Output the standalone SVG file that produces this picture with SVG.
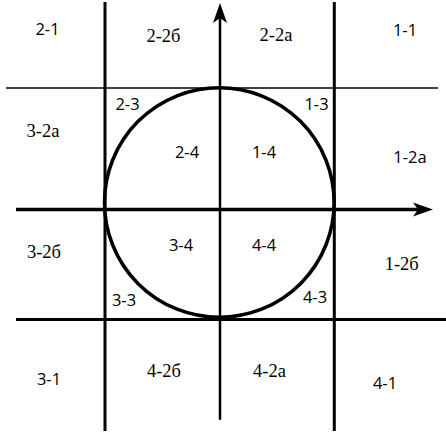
<svg xmlns="http://www.w3.org/2000/svg" width="446" height="438" viewBox="0 0 446 438">
  <style>
    .s { font-family: "Open Sans", "Liberation Sans", Arial, sans-serif; font-size: 16.5px; fill: #000; text-anchor: middle; }
    .r { font-family: "Liberation Serif", "Times New Roman", serif; font-size: 18.5px; fill: #000; text-anchor: middle; }
    .ln { stroke: #000; fill: none; }
  </style>
  <defs>
    <marker id="arr" markerUnits="userSpaceOnUse" markerWidth="20" markerHeight="14" refX="5" refY="7" orient="auto" overflow="visible">
      <path d="M0,0 L20,7 L0,14 L5,7 Z" fill="#000"/>
    </marker>
  </defs>
  <g id="connectors">
    <line class="ln" x1="6" y1="88" x2="438" y2="88" stroke-width="1.5"/>
    <line class="ln" x1="16" y1="319.5" x2="446" y2="319.5" stroke-width="3"/>
    <line class="ln" x1="105" y1="2" x2="105" y2="431" stroke-width="3"/>
    <line class="ln" x1="334.3" y1="2" x2="334.3" y2="431" stroke-width="3"/>
    <line class="ln" x1="16" y1="209.5" x2="418" y2="209.5" stroke-width="3.5" marker-end="url(#arr)"/>
    <line class="ln" x1="220" y1="419.7" x2="220" y2="18" stroke-width="2.5" marker-end="url(#arr)"/>
  </g>
  <g id="circle">
    <circle cx="219.3" cy="202.5" r="114.8" class="ln" stroke-width="3.5"/>
  </g>
  <g id="labels">
    <g id="n2-1"><text class="s" x="47.5" y="35">2-1</text></g>
    <g id="n2-2b"><text class="r" x="163.5" y="41.5">2-2б</text></g>
    <g id="n2-2a"><text class="r" x="276" y="40.5">2-2а</text></g>
    <g id="n1-1"><text class="s" x="405" y="36">1-1</text></g>
    <g id="n2-3"><text class="s" x="127.5" y="110">2-3</text></g>
    <g id="n1-3"><text class="s" x="316.5" y="110">1-3</text></g>
    <g id="n3-2a"><text class="r" x="43" y="137">3-2а</text></g>
    <g id="n2-4"><text class="s" x="187" y="157.5">2-4</text></g>
    <g id="n1-4"><text class="s" x="264" y="157.5">1-4</text></g>
    <g id="n1-2a"><text class="s" x="410" y="163.3">1-2а</text></g>
    <g id="n3-2b"><text class="r" x="44" y="257.5">3-2б</text></g>
    <g id="n3-4"><text class="s" x="181" y="251.3">3-4</text></g>
    <g id="n4-4"><text class="s" x="264" y="251.3">4-4</text></g>
    <g id="n1-2b"><text class="r" x="401.7" y="270">1-2б</text></g>
    <g id="n3-3"><text class="s" x="124" y="306.3">3-3</text></g>
    <g id="n4-3"><text class="s" x="315" y="303">4-3</text></g>
    <g id="n3-1"><text class="s" x="49" y="384.7">3-1</text></g>
    <g id="n4-2b"><text class="r" x="164" y="376.5">4-2б</text></g>
    <g id="n4-2a"><text class="r" x="269.5" y="376.5">4-2а</text></g>
    <g id="n4-1"><text class="s" x="385" y="389.3">4-1</text></g>
  </g>
</svg>
